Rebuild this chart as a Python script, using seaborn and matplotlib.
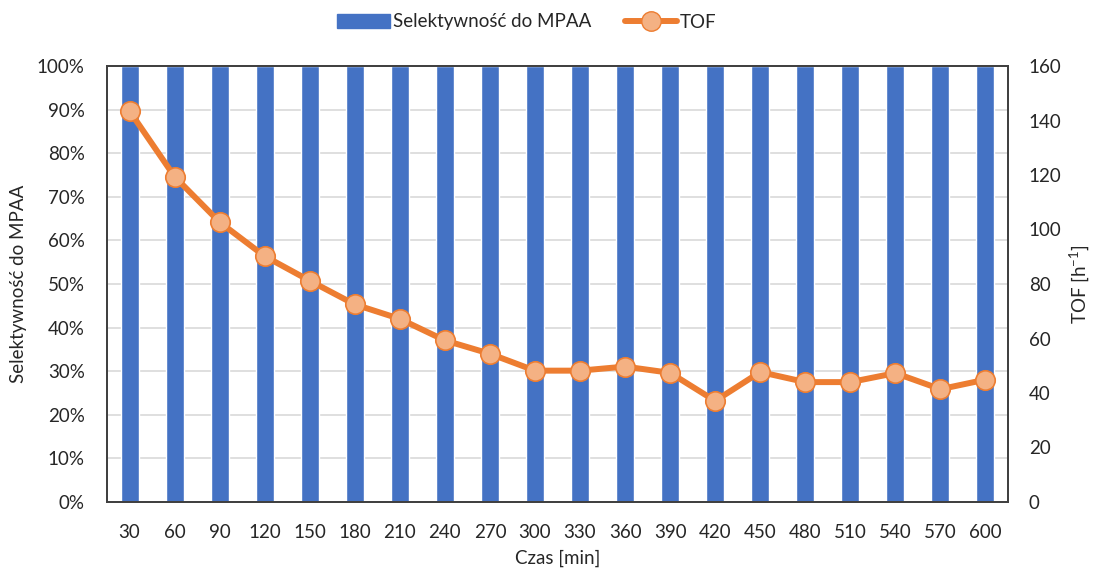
import matplotlib
matplotlib.use("Agg")
import matplotlib.pyplot as plt
import seaborn as sns
import pandas as pd
from matplotlib.ticker import PercentFormatter
from matplotlib.patches import Patch
from matplotlib.lines import Line2D

# Reaction time points [min]
czas = [30, 60, 90, 120, 150, 180, 210, 240, 270, 300,
        330, 360, 390, 420, 450, 480, 510, 540, 570, 600]
# Selectivity to MPAA (fraction)
selektywnosc = [1.0] * 20
# Turnover frequency [h^-1]
tof = [143.5, 119.4, 102.7, 90.2, 81.2, 72.5, 67.2, 59.3, 54.4, 48.2,
       48.2, 49.7, 47.4, 37.1, 47.7, 44.0, 44.0, 47.3, 41.4, 44.9]

df = pd.DataFrame({"czas": [str(c) for c in czas],
                   "sel": selektywnosc, "tof": tof})

sns.set_theme(style="white")
plt.rcParams["font.family"] = ["Lato", "DejaVu Sans"]
plt.rcParams["mathtext.fontset"] = "custom"
plt.rcParams["mathtext.rm"] = "Lato"

BLUE = "#4472C4"
ORANGE = "#ED7D31"
LIGHT_ORANGE = "#F4B183"
TEXT = "#262626"
FS = 13.5

W, H = 1093, 571
fig = plt.figure(figsize=(W / 100, H / 100), dpi=100)
ax = fig.add_axes([107 / W, 1 - 502 / H, (1008 - 107) / W, (502 - 66) / H])

sns.barplot(data=df, x="czas", y="sel", color=BLUE, width=0.4,
            saturation=1, ax=ax, zorder=2)
ax.set_ylim(0, 1)
ax.set_yticks([i / 10 for i in range(11)])
ax.yaxis.set_major_formatter(PercentFormatter(1.0, decimals=0))
ax.yaxis.grid(True, color="#D9D9D9", linewidth=1.2)
ax.set_axisbelow(True)
ax.set_xlim(-0.5, len(czas) - 0.5)

ax2 = ax.twinx()
sns.pointplot(data=df, x="czas", y="tof", color=ORANGE, errorbar=None,
              markers="o", ax=ax2, linewidth=4.3,
              markersize=14, markerfacecolor=LIGHT_ORANGE,
              markeredgecolor=ORANGE, markeredgewidth=1.2)
ax2.set_ylim(0, 160)
ax2.set_yticks(range(0, 161, 20))
ax2.set_xlim(-0.5, len(czas) - 0.5)

for a in (ax, ax2):
    for s in a.spines.values():
        s.set_color("#404040")
        s.set_linewidth(1.3)
    a.tick_params(length=0, labelsize=FS, colors=TEXT)
ax.tick_params(axis="x", pad=16)
ax.tick_params(axis="y", pad=16)
ax2.tick_params(axis="y", pad=15)

ax.set_xlabel("Czas [min]", fontsize=FS, color=TEXT, labelpad=6)
ax.set_ylabel("Selektywność do MPAA", fontsize=FS, color=TEXT, labelpad=7)
ax2.set_ylabel("TOF [h$^{\\mathrm{-1}}$]", fontsize=FS, color=TEXT, labelpad=4)

handles = [Patch(facecolor=BLUE, edgecolor=BLUE),
           Line2D([0], [0], color=ORANGE, linewidth=4.3, marker="o",
                  markersize=14, markerfacecolor=LIGHT_ORANGE,
                  markeredgecolor=ORANGE)]
fig.legend(handles, ["Selektywność do MPAA", "TOF"], loc="center",
           bbox_to_anchor=(527 / W, 1 - 22 / H), ncol=2, frameon=False,
           fontsize=FS, handlelength=2.8, columnspacing=1.8,
           handletextpad=0.15, labelcolor=TEXT)

fig.savefig("out.png", dpi=100, facecolor="white")
